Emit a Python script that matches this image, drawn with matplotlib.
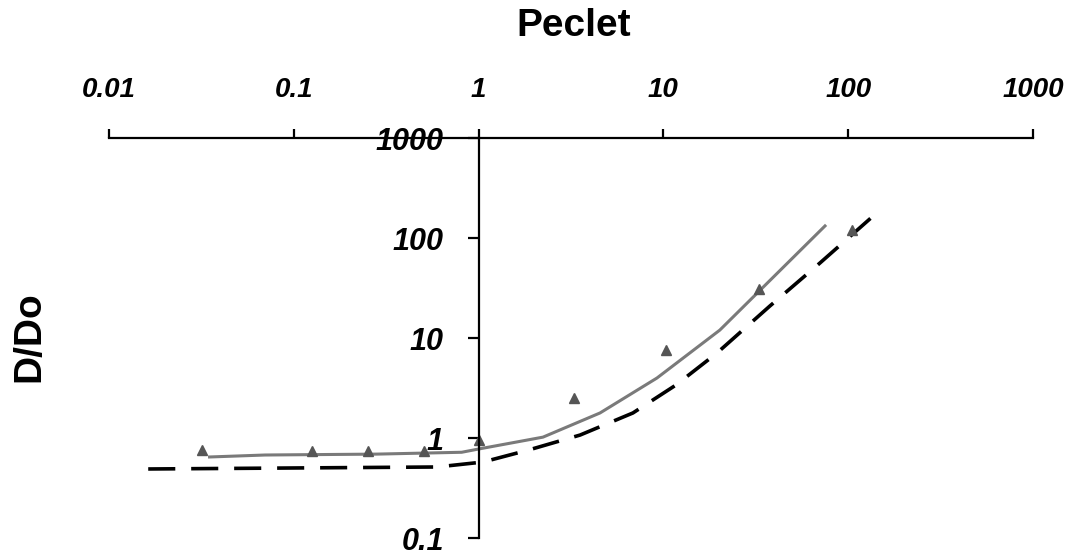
import matplotlib
matplotlib.use("Agg")
import matplotlib.pyplot as plt
from matplotlib.ticker import FixedLocator, NullLocator

plt.rcParams['font.family'] = ['Liberation Sans', 'DejaVu Sans']

# measured points (triangles)
pe_pts = [0.032, 0.125, 0.252, 0.507, 1.0, 3.28, 10.3, 32.9, 105]
d_pts = [0.76, 0.74, 0.74, 0.74, 0.95, 2.5, 7.6, 31, 120]

# solid grey curve
pe_solid = [0.035, 0.07, 0.28, 0.81, 1.0, 2.23, 4.54, 9.23, 20.2, 74.9]
d_solid = [0.646, 0.676, 0.69, 0.72, 0.776, 1.02, 1.78, 3.98, 12.0, 132]

# dashed black curve
pe_dash = [0.0163, 0.596, 1.056, 1.87, 3.54, 6.84, 11.7, 19.5, 37.7, 70.3, 134.5]
d_dash = [0.49, 0.513, 0.575, 0.76, 1.07, 1.78, 3.39, 7.08, 20.9, 56.2, 162]

xticks = [0.01, 0.1, 1, 10, 100, 1000]
xlabels = ['0.01', '0.1', '1', '10', '100', '1000']
yticks = [0.1, 1, 10, 100, 1000]
ylabels = ['0.1', '1', '10', '100', '1000']

fig = plt.figure(figsize=(10.73, 5.58), dpi=100)
ax = fig.add_axes([109/1073, 1 - 538/558, 924/1073, 400/558])

ax.plot(pe_dash, d_dash, color='black', lw=2.6, linestyle=(0, (7.5, 4.4)))
ax.plot(pe_solid, d_solid, color='#7a7a7a', lw=2.2)
ax.plot(pe_pts, d_pts, linestyle='none', marker='^', ms=6.5, color='#555555')

ax.set_xscale('log')
ax.set_yscale('log')
ax.set_xlim(0.01, 1000)
ax.set_ylim(0.1, 1000)

ax.spines['right'].set_visible(False)
ax.spines['bottom'].set_visible(False)
ax.spines['left'].set_position(('data', 1))
for s in ['left', 'top']:
    ax.spines[s].set_linewidth(1.6)

ax.xaxis.tick_top()
ax.xaxis.set_major_locator(FixedLocator(xticks))
ax.xaxis.set_minor_locator(NullLocator())
ax.set_xticklabels(xlabels, fontsize=20, fontweight='bold', style='italic')
ax.yaxis.set_major_locator(FixedLocator(yticks))
ax.yaxis.set_minor_locator(NullLocator())
ax.set_yticklabels(ylabels, fontsize=22, fontweight='bold', style='italic')
ax.tick_params(axis='x', length=6.5, width=1.6, pad=19)
ax.tick_params(axis='y', length=8, width=1.6, pad=17)

fig.text(574/1073, 1 - 26/558, 'Peclet', fontsize=28, fontweight='bold',
         ha='center', va='center')
fig.text(29/1073, 1 - 337/558, 'D/Do', fontsize=28, fontweight='bold',
         rotation=90, ha='center', va='center')

fig.savefig('out.png', dpi=100)
